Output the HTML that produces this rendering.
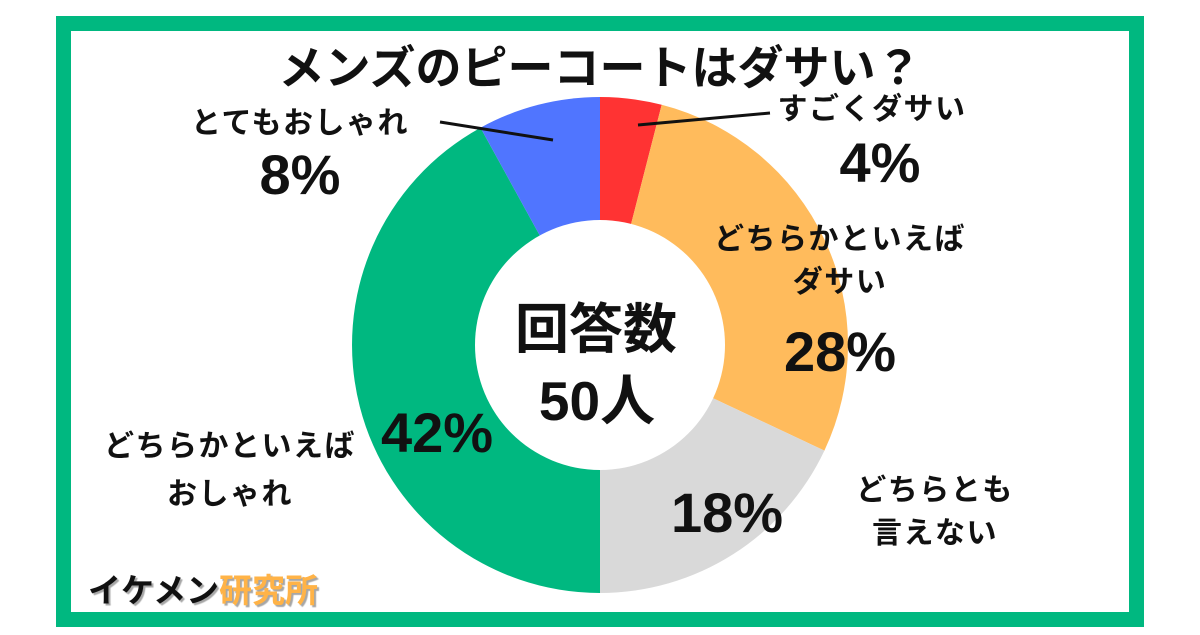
<!DOCTYPE html>
<html><head><meta charset="utf-8"><style>
html,body{margin:0;padding:0;background:#fff}
svg text{font-family:"Liberation Sans","Noto Sans CJK JP",sans-serif;font-weight:bold;fill:#111}
.l{font-size:30px;letter-spacing:1.5px}
.p{font-size:56px}
</style></head><body>
<svg width="1200" height="630" viewBox="0 0 1200 630" xmlns="http://www.w3.org/2000/svg">
<rect x="0" y="0" width="1200" height="630" fill="#fff"/>
<rect x="63.5" y="23.5" width="1073" height="596" fill="none" stroke="#00B880" stroke-width="15"/>
<text x="600" y="84" font-size="46" text-anchor="middle">メンズのピーコートはダサい？</text>
<path d="M600,345 L600,97 A248,248 0 0 1 661.7,104.8 Z" fill="#FF3333"/>
<path d="M600,345 L661.7,104.8 A248,248 0 0 1 824.4,450.6 Z" fill="#FFBB5C"/>
<path d="M600,345 L824.4,450.6 A248,248 0 0 1 600,593 Z" fill="#D9D9D9"/>
<path d="M600,345 L600,593 A248,248 0 0 1 480.5,127.7 Z" fill="#00B880"/>
<path d="M600,345 L480.5,127.7 A248,248 0 0 1 600,97 Z" fill="#5075FF"/>
<circle cx="600" cy="345" r="125" fill="#fff"/>
<text x="596" y="348" font-size="54" text-anchor="middle">回答数</text>
<text x="597" y="420" font-size="55" text-anchor="middle">50人</text>
<line x1="638" y1="125" x2="770" y2="113" stroke="#111" stroke-width="3"/>
<line x1="440" y1="122" x2="553" y2="140" stroke="#111" stroke-width="3"/>
<text class="l" x="872" y="119" text-anchor="middle">すごくダサい</text>
<text class="p" x="880" y="182" text-anchor="middle">4%</text>
<text class="l" x="300" y="133" text-anchor="middle">とてもおしゃれ</text>
<text class="p" x="300" y="194" text-anchor="middle">8%</text>
<text class="l" x="840" y="249" text-anchor="middle">どちらかといえば</text>
<text class="l" x="840" y="292" text-anchor="middle">ダサい</text>
<text class="p" x="840" y="371" text-anchor="middle">28%</text>
<text class="l" x="935" y="500" text-anchor="middle">どちらとも</text>
<text class="l" x="935" y="543" text-anchor="middle">言えない</text>
<text class="p" x="727" y="532" text-anchor="middle">18%</text>
<text class="l" x="230" y="456" text-anchor="middle">どちらかといえば</text>
<text class="l" x="230" y="504" text-anchor="middle">おしゃれ</text>
<text class="p" x="437" y="452" text-anchor="middle">42%</text>
<text x="88" y="602" font-size="33" style="text-shadow:2px 2px 1px rgba(0,0,0,0.35)">イケメン<tspan style="fill:#FFB347">研究所</tspan></text>
</svg>
</body></html>
